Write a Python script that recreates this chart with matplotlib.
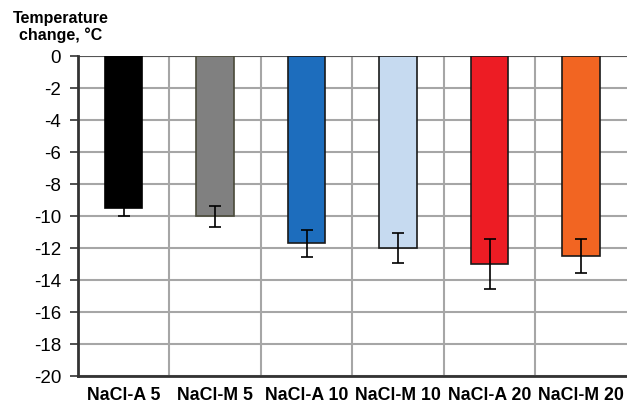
import matplotlib.pyplot as plt
import numpy as np

plt.rcParams['font.family'] = ['Liberation Sans', 'DejaVu Sans']

# salt treatments and measured temperature drop
labels = ["NaCl-A 5", "NaCl-M 5", "NaCl-A 10", "NaCl-M 10", "NaCl-A 20", "NaCl-M 20"]
temp_change = [-9.5, -10.0, -11.7, -12.0, -13.0, -12.5]
temp_err = [0.5, 0.65, 0.85, 0.95, 1.55, 1.05]
colors = ["#000000", "#808080", "#1d6dbd", "#c6daf0", "#ed1c24", "#f26522"]
edges = ["#000000", "#4a4a3a", "#1a1a1a", "#1a1a1a", "#1a1a1a", "#1a1a1a"]
yticks = [0, -2, -4, -6, -8, -10, -12, -14, -16, -18, -20]

fig = plt.figure(figsize=(6.27, 4.04), dpi=100)
ax = fig.add_axes([0.124, 0.069, 0.876, 0.792])

x = np.arange(len(labels))
ax.bar(x, temp_change, width=0.41, color=colors, edgecolor=edges,
       linewidth=1.2, zorder=3)
ax.errorbar(x, temp_change, yerr=temp_err, fmt="none", ecolor="black",
            elinewidth=1.2, capsize=4, capthick=1.2, zorder=4)

ax.set_xlim(-0.5, len(labels) - 0.5)
ax.set_ylim(-20, 0)
ax.set_yticks(yticks)
ax.set_yticklabels([str(t) for t in yticks], fontsize=13.5)

# category separators and horizontal grid
for b in np.arange(0.5, len(labels) - 0.5, 1.0):
    ax.axvline(b, color="#a6a6a6", linewidth=1.5, zorder=1)
ax.yaxis.grid(True, color="#a6a6a6", linewidth=1.5, zorder=1)
ax.set_axisbelow(True)
ax.axhline(0, color="#555555", linewidth=1.5, zorder=2)

ax.set_xticks(x)
ax.set_xticklabels(labels, fontsize=12.8, fontweight="bold")
ax.tick_params(axis="x", length=0, pad=8)
ax.tick_params(axis="y", length=6, width=1.2, color="#333333", pad=6)

for side in ["top", "right"]:
    ax.spines[side].set_visible(False)
for side in ["left", "bottom"]:
    ax.spines[side].set_linewidth(2)
    ax.spines[side].set_color("#333333")

fig.text(0.097, 0.972, "Temperature\nchange, °C", ha="center", va="top",
         fontsize=11.5, fontweight="bold", linespacing=1.05)

fig.savefig("out.png", dpi=100)
